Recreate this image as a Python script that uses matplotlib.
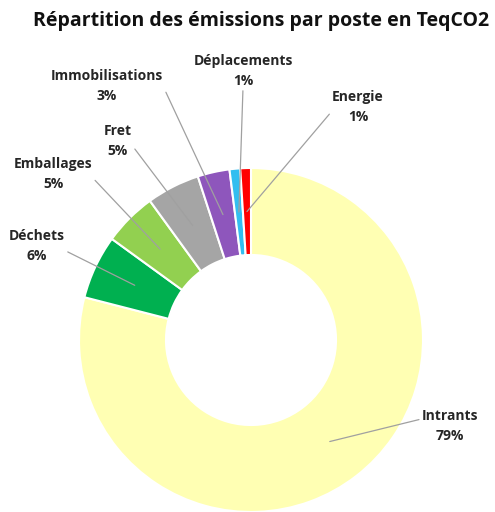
import numpy as np
import matplotlib
matplotlib.use('Agg')
import matplotlib.pyplot as plt

# data
postes = ['Intrants', 'Déchets', 'Emballages', 'Fret', 'Immobilisations', 'Déplacements', 'Energie']
parts = [79, 6, 5, 5, 3, 1, 1]
couleurs = ['#FFFFB3', '#00B050', '#92D050', '#A5A5A5', '#8E56BC', '#33BEF0', '#FF0000']
# label centres (pixels, from top-left)
label_pos = [(450, 426), (37, 246), (53, 174), (118, 141), (107, 86), (243, 71), (358, 107)]

W, H = 495, 512
cx, cy = 251, H - 340
r_out, r_in = 172, 85

fig = plt.figure(figsize=(W / 100, H / 100), dpi=100)
ax = fig.add_axes([0, 0, 1, 1])
ax.set_xlim(0, W)
ax.set_ylim(0, H)
ax.set_aspect('equal')
ax.axis('off')

wedges, _ = ax.pie(parts, colors=couleurs, startangle=90, counterclock=False,
                   radius=r_out, center=(cx, cy),
                   wedgeprops=dict(width=r_out - r_in, edgecolor='white', linewidth=1.5))
ax.set_xlim(0, W)
ax.set_ylim(0, H)

r_mid = (r_out + r_in) / 2
for w, nom, p, (lx, ly) in zip(wedges, postes, parts, label_pos):
    ang = np.deg2rad((w.theta1 + w.theta2) / 2)
    px = cx + r_mid * np.cos(ang)
    py = cy + r_mid * np.sin(ang)
    if lx < cx - 20:
        rel = (1.02, 0.35)
    elif lx > cx + 20:
        rel = (-0.02, 0.7) if ly > 200 else (-0.02, 0.35)
    else:
        rel = (0.5, 0.0)
    ax.annotate(f'{nom}\n{p}%', xy=(px, py), xytext=(lx, H - ly),
                ha='center', va='center', fontsize=10, fontweight='bold',
                family='Open Sans', color='#262626', linespacing=1.55,
                arrowprops=dict(arrowstyle='-', color='#A0A0A0', lw=0.9,
                                shrinkA=0, shrinkB=0, relpos=rel))

fig.text(261 / W, 1 - 21 / H, 'Répartition des émissions par poste en TeqCO2',
         ha='center', va='center', fontsize=14, fontweight='bold',
         family='Open Sans', color='#111111')

fig.savefig('out.png', dpi=100)
